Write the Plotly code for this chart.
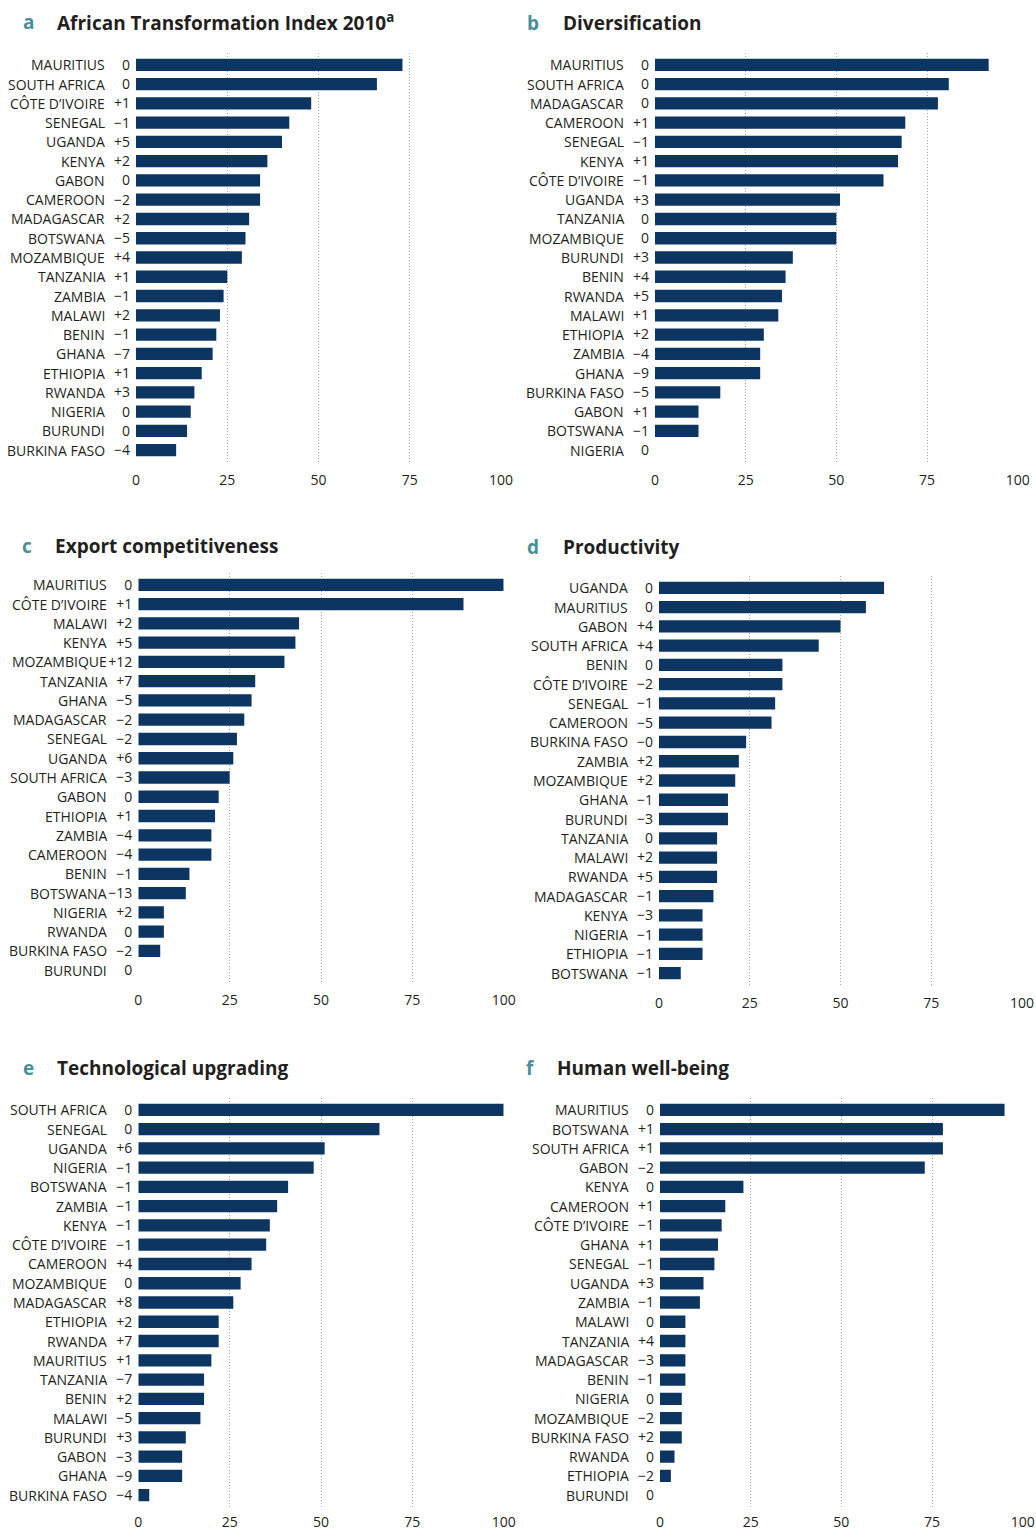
import plotly.graph_objects as go

# ---------------- data ----------------
a_countries = ["MAURITIUS", "SOUTH AFRICA", "CÔTE D’IVOIRE", "SENEGAL", "UGANDA", "KENYA", "GABON",
               "CAMEROON", "MADAGASCAR", "BOTSWANA", "MOZAMBIQUE", "TANZANIA", "ZAMBIA", "MALAWI",
               "BENIN", "GHANA", "ETHIOPIA", "RWANDA", "NIGERIA", "BURUNDI", "BURKINA FASO"]
a_change = ["0", "0", "+1", "−1", "+5", "+2", "0", "−2", "+2", "−5", "+4", "+1", "−1", "+2",
            "−1", "−7", "+1", "+3", "0", "0", "−4"]
a_values = [73, 66, 48, 42, 40, 36, 34, 34, 31, 30, 29, 25, 24, 23, 22, 21, 18, 16, 15, 14, 11]

b_countries = ["MAURITIUS", "SOUTH AFRICA", "MADAGASCAR", "CAMEROON", "SENEGAL", "KENYA", "CÔTE D’IVOIRE",
               "UGANDA", "TANZANIA", "MOZAMBIQUE", "BURUNDI", "BENIN", "RWANDA", "MALAWI", "ETHIOPIA",
               "ZAMBIA", "GHANA", "BURKINA FASO", "GABON", "BOTSWANA", "NIGERIA"]
b_change = ["0", "0", "0", "+1", "−1", "+1", "−1", "+3", "0", "0", "+3", "+4", "+5", "+1", "+2",
            "−4", "−9", "−5", "+1", "−1", "0"]
b_values = [92, 81, 78, 69, 68, 67, 63, 51, 50, 50, 38, 36, 35, 34, 30, 29, 29, 18, 12, 12, 0]

c_countries = ["MAURITIUS", "CÔTE D’IVOIRE", "MALAWI", "KENYA", "MOZAMBIQUE", "TANZANIA", "GHANA",
               "MADAGASCAR", "SENEGAL", "UGANDA", "SOUTH AFRICA", "GABON", "ETHIOPIA", "ZAMBIA",
               "CAMEROON", "BENIN", "BOTSWANA", "NIGERIA", "RWANDA", "BURKINA FASO", "BURUNDI"]
c_change = ["0", "+1", "+2", "+5", "+12", "+7", "−5", "−2", "−2", "+6", "−3", "0", "+1", "−4",
            "−4", "−1", "−13", "+2", "0", "−2", "0"]
c_values = [100, 89, 44, 43, 40, 32, 31, 29, 27, 26, 25, 22, 21, 20, 20, 14, 13, 7, 7, 6, 0]

d_countries = ["UGANDA", "MAURITIUS", "GABON", "SOUTH AFRICA", "BENIN", "CÔTE D’IVOIRE", "SENEGAL",
               "CAMEROON", "BURKINA FASO", "ZAMBIA", "MOZAMBIQUE", "GHANA", "BURUNDI", "TANZANIA",
               "MALAWI", "RWANDA", "MADAGASCAR", "KENYA", "NIGERIA", "ETHIOPIA", "BOTSWANA"]
d_change = ["0", "0", "+4", "+4", "0", "−2", "−1", "−5", "−0", "+2", "+2", "−1", "−3", "0",
            "+2", "+5", "−1", "−3", "−1", "−1", "−1"]
d_values = [62, 57, 50, 44, 34, 34, 32, 31, 24, 22, 21, 19, 19, 16, 16, 16, 15, 12, 12, 12, 6]

e_countries = ["SOUTH AFRICA", "SENEGAL", "UGANDA", "NIGERIA", "BOTSWANA", "ZAMBIA", "KENYA",
               "CÔTE D’IVOIRE", "CAMEROON", "MOZAMBIQUE", "MADAGASCAR", "ETHIOPIA", "RWANDA",
               "MAURITIUS", "TANZANIA", "BENIN", "MALAWI", "BURUNDI", "GABON", "GHANA", "BURKINA FASO"]
e_change = ["0", "0", "+6", "−1", "−1", "−1", "−1", "−1", "+4", "0", "+8", "+2", "+7",
            "+1", "−7", "+2", "−5", "+3", "−3", "−9", "−4"]
e_values = [100, 66, 51, 48, 41, 38, 36, 35, 31, 28, 26, 22, 22, 20, 18, 18, 17, 13, 12, 12, 3]

f_countries = ["MAURITIUS", "BOTSWANA", "SOUTH AFRICA", "GABON", "KENYA", "CAMEROON", "CÔTE D’IVOIRE",
               "GHANA", "SENEGAL", "UGANDA", "ZAMBIA", "MALAWI", "TANZANIA", "MADAGASCAR", "BENIN",
               "NIGERIA", "MOZAMBIQUE", "BURKINA FASO", "RWANDA", "ETHIOPIA", "BURUNDI"]
f_change = ["0", "+1", "+1", "−2", "0", "+1", "−1", "+1", "−1", "+3", "−1", "0", "+4", "−3",
            "−1", "0", "−2", "+2", "0", "−2", "0"]
f_values = [95, 78, 78, 73, 23, 18, 17, 16, 15, 12, 11, 7, 7, 7, 7, 6, 6, 6, 4, 3, 0]

panel_letters = ["a", "b", "c", "d", "e", "f"]
panel_titles = ["African Transformation Index 2010<sup>a</sup>", "Diversification",
                "Export competitiveness", "Productivity", "Technological upgrading", "Human well-being"]
x_ticks = [0, 25, 50, 75, 100]

# ---------------- layout geometry (pixels) ----------------
W, H = 1036, 1531
# plot area: x0, x1, y_top, y_bottom, x tick-label standoff
geom = [
    (136.0, 501.0, 53.3, 461.7, 8),
    (655.0, 1017.7, 53.3, 461.7, 8),
    (138.3, 503.7, 573.3, 981.7, 8),
    (659.0, 1022.0, 576.3, 984.7, 8),
    (138.3, 503.7, 1098.3, 1506.7, 5),
    (660.0, 1022.7, 1098.3, 1506.7, 5),
]
# title: letter centre x, title left x, centre y
title_pos = [
    (28, 55, 22), (532.5, 560.5, 23), (27, 53, 546),
    (532.5, 560.5, 546.5), (28, 55, 1068), (530, 555, 1068),
]

BAR = "#0c3561"
TEXT = "#231f20"
TEAL = "#4a8f9a"
GRID = "#a6a6a6"
FONT = "Open Sans"

data = [
    (a_countries, a_change, a_values),
    (b_countries, b_change, b_values),
    (c_countries, c_change, c_values),
    (d_countries, d_change, d_values),
    (e_countries, e_change, e_values),
    (f_countries, f_change, f_values),
]

fig = go.Figure()
annotations = []
layout_axes = {}

for i, (countries, changes, values) in enumerate(data):
    n = "" if i == 0 else str(i + 1)
    fig.add_trace(go.Bar(
        x=values, y=countries, orientation="h",
        marker=dict(color=BAR, line=dict(width=0)),
        xaxis="x" + n, yaxis="y" + n, showlegend=False, hoverinfo="x+y",
    ))
    x0, x1, yt, yb, xstand = geom[i]
    layout_axes["xaxis" + n] = dict(
        domain=[x0 / W, x1 / W], range=[0, 100], anchor="y" + n, automargin=False,
        tickmode="array", tickvals=x_ticks, ticktext=[str(t) for t in x_ticks],
        showgrid=True, gridcolor=GRID, griddash="1px,2px", gridwidth=1,
        zeroline=False, showline=False, ticks="", ticklabelstandoff=xstand,
        tickfont=dict(family=FONT, size=14, color=TEXT), fixedrange=True,
    )
    layout_axes["yaxis" + n] = dict(
        domain=[1 - yb / H, 1 - yt / H], anchor="x" + n, type="category", automargin=False,
        categoryorder="array", categoryarray=countries, autorange="reversed",
        tickmode="array", tickvals=countries, ticktext=changes,
        showgrid=False, zeroline=False, showline=False, ticks="",
        ticklabelstandoff=5,
        tickfont=dict(family=FONT, size=14, color=TEXT), fixedrange=True,
    )
    for c in countries:
        annotations.append(dict(
            text=c, xref="x" + n + " domain", x=0, xshift=-29, xanchor="right",
            yref="y" + n, y=c, yanchor="middle", showarrow=False,
            font=dict(family=FONT, size=14, color=TEXT),
        ))
    lx, tx, ty = title_pos[i]
    annotations.append(dict(
        text="<b>" + panel_letters[i] + "</b>", xref="paper", yref="paper",
        x=lx / W, y=1 - ty / H, xanchor="center", yanchor="middle", showarrow=False,
        font=dict(family=FONT, size=19, color=TEAL),
    ))
    annotations.append(dict(
        text="<b>" + panel_titles[i] + "</b>", xref="paper", yref="paper",
        x=tx / W, y=1 - ty / H, xanchor="left", yanchor="middle", showarrow=False,
        font=dict(family=FONT, size=19, color=TEXT),
    ))

fig.update_layout(
    template="none",
    width=W, height=H, margin=dict(l=0, r=0, t=0, b=0, pad=0, autoexpand=False),
    paper_bgcolor="white", plot_bgcolor="white",
    bargap=0.36, annotations=annotations,
    font=dict(family=FONT, size=14, color=TEXT),
    **layout_axes,
)

# remove the browser's default 8px page margin so the figure fills the window exactly
fig.write_html("out.html", config={"displayModeBar": False},
               post_script="document.body.style.margin='0px';")
